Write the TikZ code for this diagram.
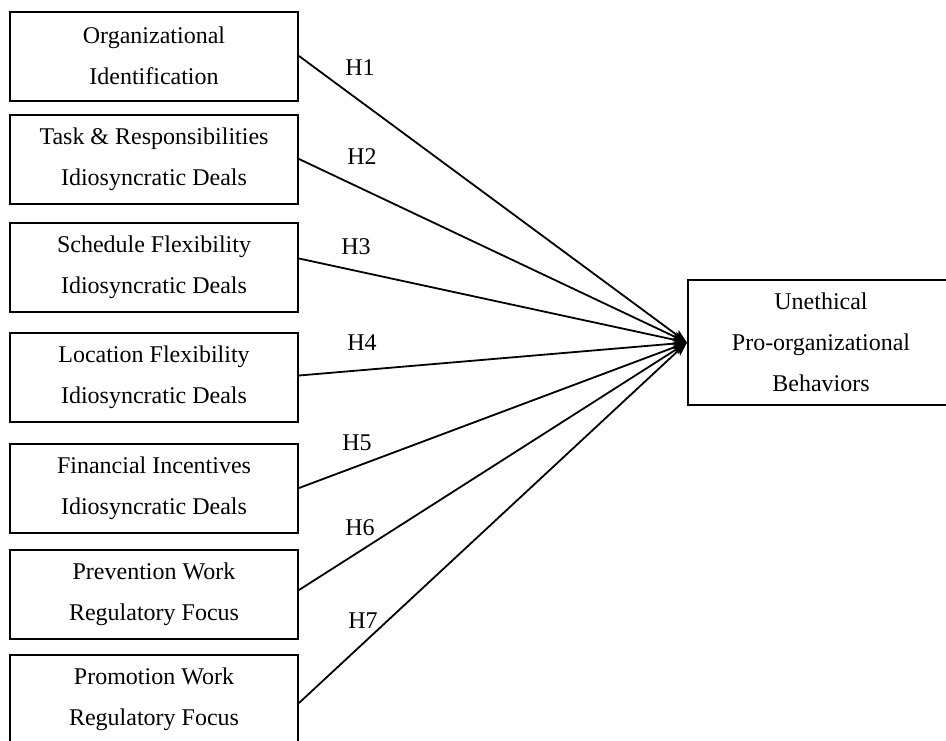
\documentclass[tikz,border=0pt]{standalone}
\usepackage{fontspec}
\setmainfont{Liberation Serif}
\usetikzlibrary{arrows.meta}
\begin{document}
\begin{tikzpicture}[x=1pt,y=-1pt,
  box/.style={draw=black,line width=2pt,rectangle,inner sep=0pt,align=center,
    font=\fontsize{24}{41}\selectfont},
  srcbox/.style={box,minimum width=288pt,minimum height=89pt},
  hyp/.style={font=\fontsize{24}{28}\selectfont,inner sep=0pt},
  link/.style={draw=black,line width=1.8pt,-{Stealth[length=14pt,width=10pt,inset=3pt]}}]
\useasboundingbox (0,0) rectangle (946,740);
\clip (0,0) rectangle (946,740);
\fill[white] (0,0) rectangle (946,740);
\node[srcbox] (b1) at (154,56) {Organizational\\Identification};
\node[srcbox] (b2) at (154,159) {Task \& Responsibilities\\Idiosyncratic Deals};
\node[srcbox] (b3) at (154,267.5) {Schedule Flexibility\\Idiosyncratic Deals};
\node[srcbox] (b4) at (154,377.5) {Location Flexibility\\Idiosyncratic Deals};
\node[srcbox] (b5) at (154,488) {Financial Incentives\\Idiosyncratic Deals};
\node[srcbox] (b6) at (154,594) {Prevention Work\\Regulatory Focus};
\node[srcbox] (b7) at (154,699) {Promotion Work\\Regulatory Focus};
\node[box,minimum width=266pt,minimum height=125pt] (t) at (821,342.5) {Unethical\\Pro-organizational\\Behaviors};
\draw[link] (b1.east) -- (t.west);
\draw[link] (b2.east) -- (t.west);
\draw[link] ([yshift=9pt]b3.east) -- (t.west);
\draw[link] ([yshift=2pt]b4.east) -- (t.west);
\draw[link] (b5.east) -- (t.west);
\draw[link] ([yshift=4pt]b6.east) -- (t.west);
\draw[link] ([yshift=-4pt]b7.east) -- (t.west);
\node[hyp] (h1) at (360,68) {H1};
\node[hyp] (h2) at (362,157) {H2};
\node[hyp] (h3) at (356,247) {H3};
\node[hyp] (h4) at (362,343) {H4};
\node[hyp] (h5) at (357,443) {H5};
\node[hyp] (h6) at (360,528) {H6};
\node[hyp] (h7) at (363,621) {H7};
\end{tikzpicture}
\end{document}
